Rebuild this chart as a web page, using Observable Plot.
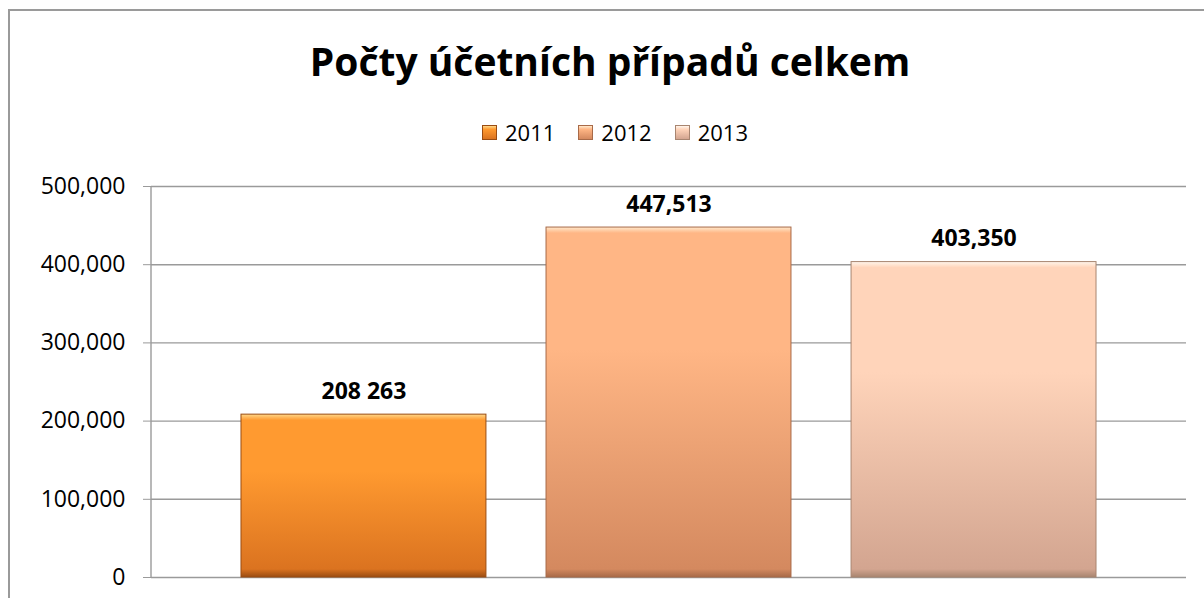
<!DOCTYPE html>
<html>
<head>
<meta charset="utf-8">
<script src="https://cdn.jsdelivr.net/npm/d3@7"></script>
<script src="https://cdn.jsdelivr.net/npm/@observablehq/plot@0.6"></script>
<style>
  html, body { margin: 0; padding: 0; background: #fff; }
  body { width: 1204px; height: 598px; overflow: hidden; position: relative; font-family: "Open Sans", sans-serif; }
  #frame { position: absolute; left: 8px; top: 9px; width: 1300px; height: 700px; z-index: 5; pointer-events: none;
           border-left: 2px solid #9a9a9a; border-top: 2px solid #9a9a9a; }
  #header { position: relative; height: 160px; width: 1204px; }
  #title { position: absolute; left: 0; width: 1220px; top: 41px; text-align: center;
           font-size: 39px; line-height: 1; font-weight: 700; color: #000; }
  #legend { position: absolute; left: 482px; top: 121px; display: flex; align-items: center;
            font-size: 22px; line-height: 1; color: #000; }
  .item { display: flex; align-items: center; margin-right: 23px; }
  .sw { width: 15px; height: 15px; margin-right: 8px; box-sizing: border-box; }
  #chart { position: relative; }
</style>
</head>
<body>
<div id="header">
  <div id="title"></div>
  <div id="legend"></div>
</div>
<div id="chart"></div>
<div id="frame"></div>
<script>
const title = "Počty účetních případů celkem";
const years = ["2011", "2012", "2013"];
const values = [208263, 447513, 403350];
const labels = ["208 263", "447,513", "403,350"];
const highlightColors = ["#ffd889", "#ffe9cc", "#fff6ec"];
const topColors = ["#ff9a30", "#ffb685", "#ffd4ba"];
const bottomColors = ["#db7320", "#d4895f", "#d3a590"];
const edgeColors = ["#9a4c12", "#a86a48", "#a88570"];
const yTicks = [0, 100000, 200000, 300000, 400000, 500000];

document.getElementById("title").textContent = title;

const legend = document.getElementById("legend");
years.forEach((y, i) => {
  const item = document.createElement("div");
  item.className = "item";
  const sw = document.createElement("div");
  sw.className = "sw";
  sw.style.background = `linear-gradient(to bottom, ${highlightColors[i]} 0%, ${topColors[i]} 25%, ${bottomColors[i]} 100%)`;
  sw.style.border = `1px solid ${edgeColors[i]}`;
  const t = document.createElement("span");
  t.textContent = y;
  item.appendChild(sw);
  item.appendChild(t);
  legend.appendChild(item);
});

const data = years.map((y, i) => ({year: y, value: values[i], label: labels[i], grad: `url(#grad${i})`, edge: edgeColors[i]}));

const plot = Plot.plot({
  width: 1204,
  height: 438,
  marginLeft: 151,
  marginRight: 18,
  marginTop: 26,
  marginBottom: 21,
  style: {fontFamily: "Open Sans, sans-serif", fontSize: "23px", color: "#000", background: "transparent"},
  x: {domain: years, paddingInner: 0.197, paddingOuter: 0.295, round: false, axis: null},
  y: {domain: [0, 500000], ticks: yTicks, tickFormat: d3.format(","), tickSize: 8, tickPadding: 18, label: null},
  color: {type: "identity"},
  marks: [
    Plot.ruleY(yTicks, {stroke: "#9a9a9a", strokeWidth: 1.4, strokeOpacity: 1}),
    Plot.barY(data, {x: "year", y: "value", fill: "grad", stroke: "edge", strokeWidth: 1}),
    Plot.text(data, {x: "year", y: "value", text: "label", lineAnchor: "bottom", dy: -16,
                     fontWeight: "bold", fontSize: 23, fill: "#000"})
  ]
});

// gradients for the bars, computed from the y scale
const svg = d3.select(plot);
const yScale = plot.scale("y");
const defs = svg.insert("defs", ":first-child");
data.forEach((d, i) => {
  const yTop = yScale.apply(d.value), yBot = yScale.apply(0);
  const h = yBot - yTop;
  const g = defs.append("linearGradient").attr("id", `grad${i}`)
    .attr("gradientUnits", "userSpaceOnUse").attr("x1", 0).attr("x2", 0)
    .attr("y1", yTop).attr("y2", yBot);
  g.append("stop").attr("offset", 0).attr("stop-color", highlightColors[i]);
  g.append("stop").attr("offset", 6 / h).attr("stop-color", topColors[i]);
  g.append("stop").attr("offset", 0.35).attr("stop-color", topColors[i]);
  g.append("stop").attr("offset", 1 - 8 / h).attr("stop-color", bottomColors[i]);
  g.append("stop").attr("offset", 1).attr("stop-color", edgeColors[i]);
});
// vertical axis line
const yr = yScale.range;
svg.append("line").attr("x1", 151).attr("x2", 151)
  .attr("y1", yr[0]).attr("y2", yr[1]).attr("stroke", "#9a9a9a").attr("stroke-width", 1.4);
svg.selectAll("[aria-label='y-axis tick']").attr("stroke", "#9a9a9a");

document.getElementById("chart").appendChild(plot);
</script>
</body>
</html>
